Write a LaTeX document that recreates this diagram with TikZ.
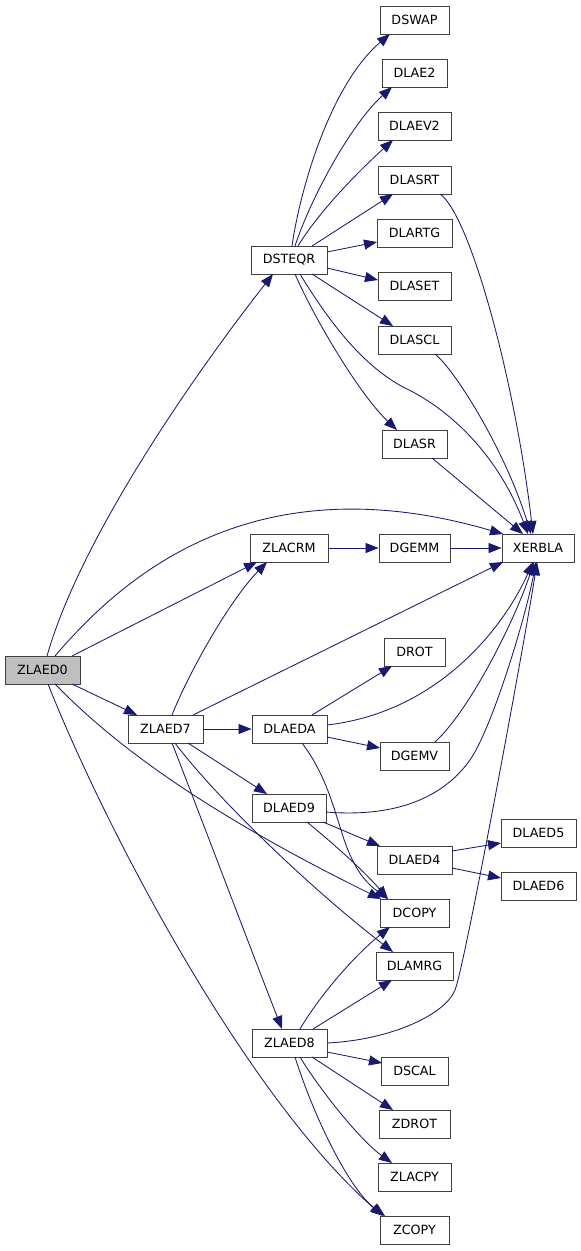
\documentclass[tikz,border=0pt]{standalone}
\usepackage{fontspec}
\setmainfont{DejaVu Sans}
\usetikzlibrary{arrows.meta}
\definecolor{edgec}{HTML}{191970}
\definecolor{rootfill}{HTML}{BFBFBF}
\definecolor{boxline}{HTML}{404040}
\begin{document}
\begin{tikzpicture}[x=1pt,y=-1pt,
  fn/.style={draw=boxline,line width=0.9pt,minimum height=28pt,inner sep=0pt,fill=white,
    font=\fontsize{12.7}{14}\selectfont},
  e/.style={draw=edgec,line width=0.85pt,-{Triangle[length=13pt,width=10pt]}}]
\useasboundingbox[fill=white] (0,0) rectangle (581,1251);
% nodes
\node[fn,minimum width=75pt,fill=rootfill] (ZLAED0) at (42.5,670) {ZLAED0};
\node[fn,minimum width=76pt] (DSTEQR) at (289,260) {DSTEQR};
\node[fn,minimum width=69pt] (DSWAP) at (414.5,20) {DSWAP};
\node[fn,minimum width=65pt] (DLAE2) at (414.5,73) {DLAE2};
\node[fn,minimum width=73pt] (DLAEV2) at (414.5,126) {DLAEV2};
\node[fn,minimum width=73pt] (DLASRT) at (414.5,180) {DLASRT};
\node[fn,minimum width=75pt] (DLARTG) at (414.5,233) {DLARTG};
\node[fn,minimum width=73pt] (DLASET) at (414.5,286) {DLASET};
\node[fn,minimum width=73pt] (DLASCL) at (414.5,340) {DLASCL};
\node[fn,minimum width=65pt] (DLASR) at (414.5,444) {DLASR};
\node[fn,minimum width=78pt] (ZLACRM) at (289,548) {ZLACRM};
\node[fn,minimum width=71pt] (DGEMM) at (414.5,548) {DGEMM};
\node[fn,minimum width=72pt] (XERBLA) at (538,548) {XERBLA};
\node[fn,minimum width=61pt] (DROT) at (414.5,652) {DROT};
\node[fn,minimum width=75pt] (ZLAED7) at (165.5,729) {ZLAED7};
\node[fn,minimum width=75pt] (DLAEDA) at (289.5,729) {DLAEDA};
\node[fn,minimum width=69pt] (DGEMV) at (414.5,756) {DGEMV};
\node[fn,minimum width=74pt] (DLAED9) at (289,808) {DLAED9};
\node[fn,minimum width=75pt] (DLAED5) at (538.5,833) {DLAED5};
\node[fn,minimum width=75pt] (DLAED4) at (414.5,860) {DLAED4};
\node[fn,minimum width=75pt] (DLAED6) at (538.5,886) {DLAED6};
\node[fn,minimum width=69pt] (DCOPY) at (414.5,913) {DCOPY};
\node[fn,minimum width=77pt] (DLAMRG) at (414.5,966) {DLAMRG};
\node[fn,minimum width=75pt] (ZLAED8) at (289.5,1043) {ZLAED8};
\node[fn,minimum width=67pt] (DSCAL) at (414.5,1071) {DSCAL};
\node[fn,minimum width=71pt] (ZDROT) at (414.5,1124) {ZDROT};
\node[fn,minimum width=73pt] (ZLACPY) at (414.5,1177) {ZLACPY};
\node[fn,minimum width=69pt] (ZCOPY) at (414.5,1230) {ZCOPY};
% ZLAED0 edges
\draw[e] ([shift={(4.5,-14)}]ZLAED0.center) .. controls (80,540) and (190,380) .. ([shift={(-16,14)}]DSTEQR.center);
\draw[e] ([shift={(12.5,-14)}]ZLAED0.center) .. controls (120,580) and (250,460) .. ([shift={(-35,-14)}]XERBLA.center);
\draw[e] ([shift={(29.5,-14)}]ZLAED0.center) -- ([shift={(-32,14)}]ZLACRM.center);
\draw[e] ([shift={(29.5,14)}]ZLAED0.center) -- ([shift={(-28.5,-14)}]ZLAED7.center);
\draw[e] ([shift={(12.5,14)}]ZLAED0.center) .. controls (100,730) and (180,800) .. ([shift={(-33.5,-14)}]DCOPY.center);
\draw[e] ([shift={(5.5,14)}]ZLAED0.center) .. controls (110,840) and (250,1100) .. ([shift={(-31.5,-14)}]ZCOPY.center);
% DSTEQR edges
\draw[e] ([shift={(3,-14)}]DSTEQR.center) .. controls (300,190) and (330,85) .. ([shift={(-24.5,14)}]DSWAP.center);
\draw[e] ([shift={(6,-14)}]DSTEQR.center) .. controls (310,200) and (350,125) .. ([shift={(-22.5,14)}]DLAE2.center);
\draw[e] ([shift={(9,-14)}]DSTEQR.center) .. controls (320,210) and (360,170) .. ([shift={(-21.5,14)}]DLAEV2.center);
\draw[e] ([shift={(23,-14)}]DSTEQR.center) -- ([shift={(-21.5,14)}]DLASRT.center);
\draw[e] ([shift={(38,-8)}]DSTEQR.center) -- ([shift={(-37.5,9)}]DLARTG.center);
\draw[e] ([shift={(38,8)}]DSTEQR.center) -- ([shift={(-36.5,-6)}]DLASET.center);
\draw[e] ([shift={(23,14)}]DSTEQR.center) -- ([shift={(-21.5,-14)}]DLASCL.center);
\draw[e] ([shift={(6,14)}]DSTEQR.center) .. controls (315,320) and (360,395) .. ([shift={(-17.5,-14)}]DLASR.center);
\draw[e] ([shift={(11,14)}]DSTEQR.center) .. controls (325,315) and (360,365) .. (405,388)
   .. controls (455,412) and (500,460) .. ([shift={(-10,-14)}]XERBLA.center);
\draw[e] ([shift={(25.5,14)}]DLASRT.center) .. controls (470,215) and (515,380) .. ([shift={(-5,-14)}]XERBLA.center);
\draw[e] ([shift={(20.5,14)}]DLASCL.center) .. controls (455,370) and (505,450) .. ([shift={(-7,-14)}]XERBLA.center);
\draw[e] ([shift={(17.5,14)}]DLASR.center) -- ([shift={(-15,-14)}]XERBLA.center);
% ZLACRM / DGEMM
\draw[e] (ZLACRM.east) -- (DGEMM.west);
\draw[e] (DGEMM.east) -- (XERBLA.west);
% ZLAED7 edges
\draw[e] ([shift={(6.5,-14)}]ZLAED7.center) .. controls (190,670) and (230,600) .. ([shift={(-22,14)}]ZLACRM.center);
\draw[e] ([shift={(27.5,-14)}]ZLAED7.center) -- ([shift={(-35,14)}]XERBLA.center);
\draw[e] (ZLAED7.east) -- (DLAEDA.west);
\draw[e] ([shift={(22.5,14)}]ZLAED7.center) -- ([shift={(-22,-14)}]DLAED9.center);
\draw[e] ([shift={(6.5,14)}]ZLAED7.center) .. controls (200,815) and (255,960) .. ([shift={(-7.5,-14)}]ZLAED8.center);
\draw[e] ([shift={(9.5,14)}]ZLAED7.center) .. controls (210,790) and (300,880) .. ([shift={(-21.5,-14)}]DLAMRG.center);
% DLAEDA edges
\draw[e] ([shift={(22.5,-14)}]DLAEDA.center) -- ([shift={(-22.5,14)}]DROT.center);
\draw[e] ([shift={(37.5,8)}]DLAEDA.center) -- ([shift={(-34.5,-8)}]DGEMV.center);
\draw[e] ([shift={(37.5,-4)}]DLAEDA.center) .. controls (440,712) and (505,625) .. ([shift={(-5,14)}]XERBLA.center);
\draw[e] ([shift={(12.5,14)}]DLAEDA.center) .. controls (345,800) and (335,860) .. ([shift={(-26.5,-14)}]DCOPY.center);
\draw[e] ([shift={(20.5,-14)}]DGEMV.center) .. controls (470,710) and (515,620) .. ([shift={(-4,14)}]XERBLA.center);
% DLAED9 edges
\draw[e] ([shift={(37,4)}]DLAED9.center) .. controls (400,818) and (445,795) .. (470,760)
   .. controls (492,728) and (525,620) .. ([shift={(-2,14)}]XERBLA.center);
\draw[e] ([shift={(34,14)}]DLAED9.center) -- ([shift={(-34.5,-14)}]DLAED4.center);
\draw[e] ([shift={(18,14)}]DLAED9.center) .. controls (335,845) and (365,872) .. ([shift={(-26.5,-14)}]DCOPY.center);
\draw[e] ([shift={(37.5,-9)}]DLAED4.center) -- ([shift={(-37.5,10)}]DLAED5.center);
\draw[e] ([shift={(37.5,8)}]DLAED4.center) -- ([shift={(-37.5,-8)}]DLAED6.center);
% ZLAED8 edges
\draw[e] ([shift={(10.5,-14)}]ZLAED8.center) .. controls (320,995) and (355,955) .. ([shift={(-24.5,14)}]DCOPY.center);
\draw[e] ([shift={(23.5,-14)}]ZLAED8.center) -- ([shift={(-22.5,14)}]DLAMRG.center);
\draw[e] ([shift={(37.5,0)}]ZLAED8.center) .. controls (390,1040) and (445,1015) .. (455,990)
   .. controls (465,965) and (525,640) .. ([shift={(-1,14)}]XERBLA.center);
\draw[e] ([shift={(37.5,9)}]ZLAED8.center) -- ([shift={(-32.5,-8)}]DSCAL.center);
\draw[e] ([shift={(22.5,14)}]ZLAED8.center) -- ([shift={(-21.5,-14)}]ZDROT.center);
\draw[e] ([shift={(10.5,14)}]ZLAED8.center) .. controls (320,1090) and (360,1140) .. ([shift={(-22.5,-14)}]ZLACPY.center);
\draw[e] ([shift={(5.5,14)}]ZLAED8.center) .. controls (315,1120) and (350,1190) .. ([shift={(-29.5,-14)}]ZCOPY.center);
\end{tikzpicture}
\end{document}
